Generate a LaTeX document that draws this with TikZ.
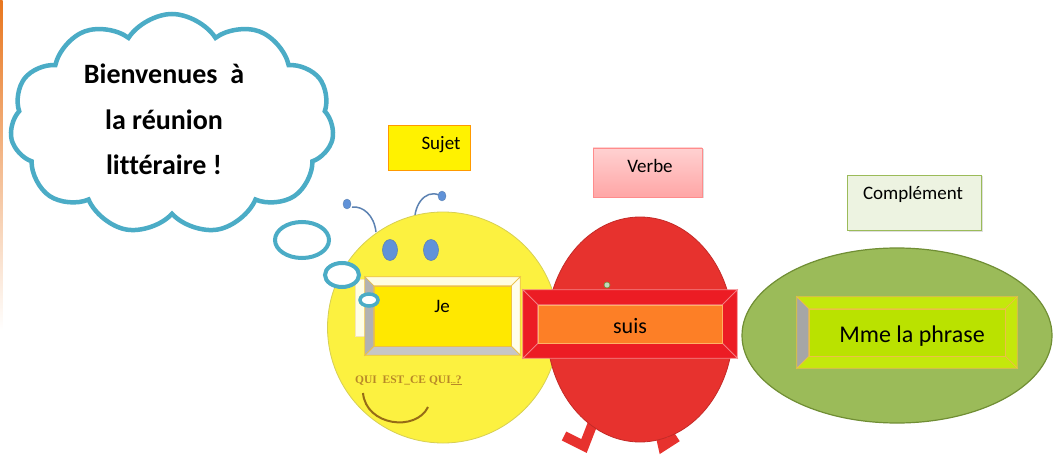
\documentclass[tikz,border=0pt]{standalone}
\usepackage{fontspec}
\setmainfont{Carlito}[Ligatures=NoCommon]
\newfontfamily\quifont{Liberation Serif}
\usetikzlibrary{shapes.geometric,shapes.symbols,shadows}

\definecolor{nuage}{RGB}{75,172,198}
\definecolor{bordorange}{RGB}{232,118,30}
\definecolor{jaunesujet}{RGB}{252,241,64}
\definecolor{jauneface}{RGB}{255,232,0}
\definecolor{jaunetrait}{RGB}{236,192,70}
\definecolor{rougeverbe}{RGB}{231,50,46}
\definecolor{rougecadre}{RGB}{236,28,36}
\definecolor{orangeface}{RGB}{253,127,38}
\definecolor{verttrait}{RGB}{112,142,52}
\definecolor{vertcompl}{RGB}{155,187,89}
\definecolor{citron}{RGB}{196,232,12}
\definecolor{citronface}{RGB}{186,226,0}
\definecolor{antenne}{RGB}{92,130,178}
\definecolor{oeil}{RGB}{96,146,216}
\definecolor{ocre}{RGB}{184,136,40}
\definecolor{sourire}{RGB}{150,108,22}

% four sloped faces round a framed box: node, depth, top, right, bottom, left, line style
\newcommand{\bevel}[7]{%
  \filldraw[#7,fill=#3] (#1.north west) -- (#1.north east) -- ([shift={(-#2,#2)}]#1.north east) -- ([shift={(#2,#2)}]#1.north west) -- cycle;
  \filldraw[#7,fill=#4] (#1.north east) -- (#1.south east) -- ([shift={(-#2,-#2)}]#1.south east) -- ([shift={(-#2,#2)}]#1.north east) -- cycle;
  \filldraw[#7,fill=#5] (#1.south east) -- (#1.south west) -- ([shift={(#2,-#2)}]#1.south west) -- ([shift={(-#2,-#2)}]#1.south east) -- cycle;
  \filldraw[#7,fill=#6] (#1.south west) -- (#1.north west) -- ([shift={(#2,#2)}]#1.north west) -- ([shift={(#2,-#2)}]#1.south west) -- cycle;
}

\begin{document}
\begin{tikzpicture}[x=1pt,y=-1pt,
    corps/.style={ellipse,inner sep=0,line width=0.8},
    cadre/.style={rectangle,inner sep=0},
    etiquette/.style={rectangle,inner sep=0,line width=0.7},
    mot/.style={anchor=base,inner sep=0,font=\fontsize{19}{21}\selectfont},
    bulle/.style={ellipse,inner sep=0,draw=nuage,fill=white,line width=4},
    jeligne/.style={draw=jaunetrait,line width=0.7},
    suisligne/.style={draw=rougecadre!55!white,line width=0.7},
    mmeligne/.style={draw=jaunetrait,line width=0.7}]
  \fill[white] (0,0) rectangle (1054,457);
  \useasboundingbox (0,0) rectangle (1054,457);
  \shade[top color=bordorange,bottom color=white] (0,0) rectangle (2.5,330);

  % the cloud
  \node[cloud,cloud puffs=11,cloud puff arc=115,draw=nuage,fill=white,line width=4.5,
        minimum width=324,minimum height=220,inner sep=0] (nuage) at (172,124) {};
  \node[anchor=base,font=\fontsize{28}{45.5}\selectfont\bfseries] (bienvenue) at (164,84) {Bienvenues~ à};
  \node[anchor=base,font=\fontsize{28}{45.5}\selectfont\bfseries] (reunion) at (164,130) {la réunion};
  \node[anchor=base,font=\fontsize{28}{45.5}\selectfont\bfseries] (litt) at (164,175) {littéraire !};

  % labels above the bodies
  \node[etiquette,draw=orange!80!yellow,fill=yellow,minimum width=82,minimum height=45] (sujetbox) at (429,147.5) {};
  \node[mot] (sujet) at (441,150) {Sujet};
  \node[etiquette,draw=red!45,top color=red!18,bottom color=red!35,minimum width=109,minimum height=49,
        drop shadow={shadow xshift=1.5pt,shadow yshift=-1.5pt,opacity=0.25}] (verbebox) at (647.5,172.5) {};
  \node[mot] (verbe) at (650,173) {Verbe};
  \node[etiquette,draw=vertcompl,fill=vertcompl!18,minimum width=134,minimum height=55,
        drop shadow={shadow xshift=1.5pt,shadow yshift=-1.5pt,opacity=0.25}] (complbox) at (914,202.5) {};
  \node[mot] (compl) at (913,200) {Complément};

  % Sujet: the yellow head
  \draw[antenne,line width=1.5] (352,207) .. controls (363,206) and (374,215) .. (376,232);
  \draw[antenne,line width=1.5] (415,227) .. controls (412,206) and (425,189) .. (439,195);
  \node[corps,fill=jaunesujet,draw=jaunesujet!70!gray,minimum width=231,minimum height=231] (tete) at (443,327.5) {};
  \node[ellipse,inner sep=0,fill=oeil,draw=antenne,minimum width=8,minimum height=10] (boule1) at (347,204) {};
  \node[ellipse,inner sep=0,fill=oeil,draw=antenne,minimum width=8,minimum height=10] (boule2) at (442,196) {};
  \node[ellipse,inner sep=0,fill=oeil,draw=antenne,line width=0.6,minimum width=15,minimum height=21] (oeilg) at (390,250) {};
  \node[ellipse,inner sep=0,fill=oeil,draw=antenne,line width=0.6,minimum width=15,minimum height=21] (oeild) at (431,250) {};
  \node[cadre,draw=jaunetrait!40,fill=yellow!10,line width=0.5,minimum width=12,minimum height=57] (ombre) at (361,308) {};
  \node[cadre,fill=jauneface,minimum width=155,minimum height=78] (jecadre) at (442.5,316) {};
  \bevel{jecadre}{9}{yellow!12}{yellow!8}{gray!45}{gray!60}{jeligne}
  \node[cadre,fill=jauneface,draw=jaunetrait,line width=0.7,minimum width=137,minimum height=60] (jeface) at (jecadre) {};
  \node[mot] (je) at (442,312) {Je};
  \node[anchor=base west,inner sep=0,text=ocre,font=\quifont\bfseries\fontsize{11.5}{12}\selectfont] (qui) at (355,383)
    {QUI~ EST\_CE QUI\underline{\fontsize{7}{7}\selectfont...\fontsize{11.5}{12}\selectfont?}};
  \draw[sourire,line width=2] (363,393) .. controls (366,426) and (416,432) .. (428,407);

  % Verbe: the red body and its feet
  \draw[rougeverbe,line width=10,line join=miter] (596,415) -- (584,446) -- (564,436);
  \draw[rougeverbe,line width=10,line join=miter] (656,415) -- (663,446) -- (677,437);
  \node[corps,fill=rougeverbe,draw=rougeverbe!85!black,minimum width=186,minimum height=225] (corpsrouge) at (640,329.5) {};
  \node[circle,inner sep=0,fill=green!25!gray!40,draw=verttrait,line width=0.6,minimum size=6] (point) at (607,285) {};
  \node[cadre,fill=rougecadre,minimum width=214,minimum height=68] (suiscadre) at (630,324) {};
  \bevel{suiscadre}{15}{rougecadre}{rougecadre}{rougecadre}{rougecadre}{suisligne}
  \node[cadre,fill=orangeface,draw=orange!60!white,line width=0.6,minimum width=184,minimum height=38] (suisface) at (suiscadre) {};
  \node[mot,font=\fontsize{22}{24}\selectfont] (suis) at (630,333) {suis};

  % Complement: the green ellipse
  \node[corps,fill=vertcompl,draw=verttrait,line width=1.2,minimum width=310,minimum height=175] (ovale) at (897,335.5) {};
  \node[cadre,fill=citron,minimum width=220,minimum height=71] (mmecadre) at (907,332.5) {};
  \bevel{mmecadre}{12}{citron}{citron}{citron}{gray!70}{mmeligne}
  \node[cadre,fill=citronface,draw=jaunetrait,line width=0.7,minimum width=196,minimum height=47] (mmeface) at (mmecadre) {};
  \node[mot,font=\fontsize{24}{26}\selectfont] (mme) at (912,342) {Mme la phrase};

  % thought bubbles
  \node[bulle,minimum width=54,minimum height=36] (bulle1) at (302,240) {};
  \node[bulle,minimum width=34,minimum height=24] (bulle2) at (342,275) {};
  \node[bulle,minimum width=18,minimum height=12,line width=3.5] (bulle3) at (369,300) {};
\end{tikzpicture}
\end{document}
